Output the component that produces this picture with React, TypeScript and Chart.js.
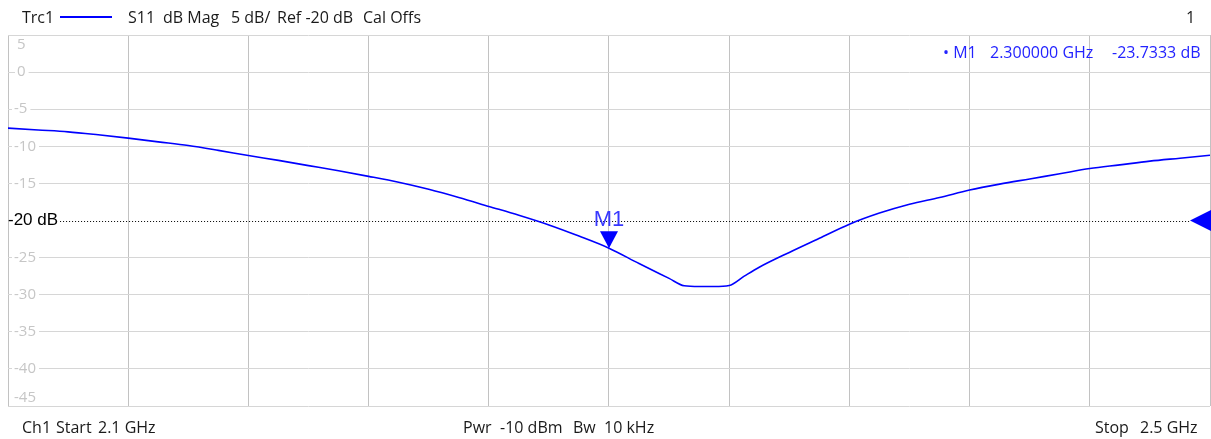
import React, { useEffect, useRef } from "react";
import { Chart, registerables } from "chart.js";

Chart.register(...registerables);

// Frequency (GHz) of each trace point
const freqs = [
  2.1, 2.11, 2.12, 2.13, 2.14, 2.15, 2.16, 2.17, 2.18, 2.19, 2.2, 2.21, 2.22, 2.23, 2.24, 2.25,
  2.26, 2.27, 2.28, 2.29, 2.3, 2.31, 2.32, 2.325, 2.33, 2.335, 2.34, 2.345, 2.35, 2.36, 2.37,
  2.38, 2.39, 2.4, 2.41, 2.42, 2.43, 2.44, 2.45, 2.46, 2.47, 2.48, 2.49, 2.5,
];
// S11 magnitude (dB)
const s11 = [
  -7.55, -7.8, -8.05, -8.45, -8.9, -9.4, -9.9, -10.55, -11.25, -11.9, -12.6, -13.3, -14.05,
  -14.85, -15.8, -16.9, -18.1, -19.3, -20.6, -22.1, -23.73, -25.8, -27.8, -28.8, -28.9, -28.9,
  -28.75, -27.5, -26.3, -24.3, -22.4, -20.5, -19.0, -17.8, -16.9, -15.9, -15.1, -14.4, -13.7,
  -13.0, -12.5, -12.0, -11.6, -11.2,
];
const yTicks = [5, 0, -5, -10, -15, -20, -25, -30, -35, -40, -45];
const refLevel = -20;
const markerFreq = 2.3;
const markerValue = -23.7333;
// header / footer text groups with their left positions
const headerGroups: [string, number][] = [
  ["Trc1", 22],
  ["S11", 128],
  ["dB Mag", 163],
  ["5 dB/", 231],
  ["Ref -20 dB", 277],
  ["Cal Offs", 363],
  ["1", 1186],
];
const markerGroups: [string, number][] = [
  ["• M1", 943],
  ["2.300000 GHz", 990],
  ["-23.7333 dB", 1112],
];
const footerGroups: [string, number][] = [
  ["Ch1", 22],
  ["Start", 56],
  ["2.1 GHz", 98],
  ["Pwr", 463],
  ["-10 dBm", 500],
  ["Bw", 573],
  ["10 kHz", 604],
  ["Stop", 1095],
  ["2.5 GHz", 1140],
];

const overlayPlugin = {
  id: "vnaOverlay",
  beforeDatasetsDraw(chart: any) {
    const ctx = chart.ctx;
    const ys = chart.scales.y;
    const area = chart.chartArea;
    ctx.save();
    ctx.font = "15px 'Open Sans', sans-serif";
    ctx.textBaseline = "middle";
    ctx.textAlign = "left";
    yTicks.forEach((v) => {
      if (v === refLevel) return;
      const y = ys.getPixelForValue(v);
      const label = String(v);
      const w = ctx.measureText(label).width;
      const lx = v >= 0 ? area.left + 9 : area.left + 6;
      let ty = y;
      if (v === yTicks[0]) ty = y + 10;
      else if (v === yTicks[yTicks.length - 1]) ty = y - 8;
      else {
        ctx.fillStyle = "#ffffff";
        ctx.fillRect(lx - 2, y - 3, w + 5, 6);
      }
      ctx.fillStyle = "#c6c6c6";
      ctx.fillText(label, lx, ty);
    });
    // reference level
    const yr = ys.getPixelForValue(refLevel);
    ctx.font = "17px 'Liberation Sans', Arial, sans-serif";
    ctx.fillStyle = "#000000";
    ctx.fillText("-20 dB", area.left, yr);
    const rw = ctx.measureText("-20 dB").width;
    ctx.strokeStyle = "#000000";
    ctx.lineWidth = 1;
    ctx.setLineDash([1, 2]);
    ctx.beginPath();
    ctx.moveTo(area.left + rw + 2, Math.round(yr) + 0.5);
    ctx.lineTo(area.right - 20, Math.round(yr) + 0.5);
    ctx.stroke();
    ctx.setLineDash([]);
    ctx.restore();
  },
  afterDatasetsDraw(chart: any) {
    const ctx = chart.ctx;
    const xs = chart.scales.x;
    const ys = chart.scales.y;
    const area = chart.chartArea;
    ctx.save();
    const mx = xs.getPixelForValue(markerFreq);
    const my = ys.getPixelForValue(markerValue);
    ctx.fillStyle = "#0000ff";
    ctx.beginPath();
    ctx.moveTo(mx, my);
    ctx.lineTo(mx - 9, my - 17);
    ctx.lineTo(mx + 9, my - 17);
    ctx.closePath();
    ctx.fill();
    ctx.font = "22px 'Liberation Sans', Arial, sans-serif";
    ctx.fillStyle = "#3838ff";
    ctx.textAlign = "center";
    ctx.textBaseline = "alphabetic";
    ctx.fillText("M1", mx, my - 22);
    // reference triangle
    const yr = ys.getPixelForValue(refLevel);
    ctx.fillStyle = "#0000ff";
    ctx.beginPath();
    ctx.moveTo(area.right - 20, yr);
    ctx.lineTo(area.right + 2, yr - 11);
    ctx.lineTo(area.right + 2, yr + 11);
    ctx.closePath();
    ctx.fill();
    ctx.restore();
  },
};

export default function App() {
  const ref = useRef<HTMLCanvasElement>(null);
  useEffect(() => {
    if (!ref.current) return;
    const chart = new Chart(ref.current, {
      type: "line",
      data: {
        datasets: [
          {
            data: freqs.map((f, i) => ({ x: f, y: s11[i] })),
            borderColor: "#0000ff",
            borderWidth: 1.6,
            pointRadius: 0,
            cubicInterpolationMode: "monotone",
          },
        ],
      },
      options: {
        animation: false,
        responsive: false,
        devicePixelRatio: 1,
        layout: { padding: { left: 8, right: 1, top: 35, bottom: 33 } },
        plugins: { legend: { display: false }, tooltip: { enabled: false } },
        scales: {
          x: {
            type: "linear",
            min: 2.1,
            max: 2.5,
            ticks: { display: false, stepSize: 0.04 },
            grid: { color: "#c2c2c2", drawTicks: false, lineWidth: 1 },
            border: { display: false },
          },
          y: {
            type: "linear",
            min: -45,
            max: 5,
            ticks: { display: false, stepSize: 5 },
            grid: {
              drawTicks: false,
              lineWidth: 1,
              color: (c: any) => (c.tick && c.tick.value === refLevel ? "rgba(0,0,0,0)" : "#d6d6d6"),
            },
            border: { display: false },
          },
        },
      },
      plugins: [overlayPlugin],
    });
    return () => chart.destroy();
  }, []);

  const txt: React.CSSProperties = {
    position: "absolute",
    fontFamily: "'Open Sans', 'Noto Sans', sans-serif",
    fontSize: 16,
    color: "#1a1a1a",
    whiteSpace: "pre",
    lineHeight: "20px",
  };
  return (
    <div style={{ position: "fixed", left: 0, top: 0, width: 1211, height: 439, background: "#fff" }}>
      <canvas ref={ref} width={1211} height={439} style={{ position: "absolute", left: 0, top: 0 }} />
      <div style={{ position: "absolute", left: 60, top: 16, width: 52, height: 2, background: "#0000ff" }} />
      {headerGroups.map(([t, x]) => (
        <div key={t} style={{ ...txt, left: x, top: 7 }}>{t}</div>
      ))}
      {markerGroups.map(([t, x]) => (
        <div key={t} style={{ ...txt, left: x, top: 42, color: "#2323ff" }}>{t}</div>
      ))}
      {footerGroups.map(([t, x]) => (
        <div key={t} style={{ ...txt, left: x, top: 417 }}>{t}</div>
      ))}
    </div>
  );
}
